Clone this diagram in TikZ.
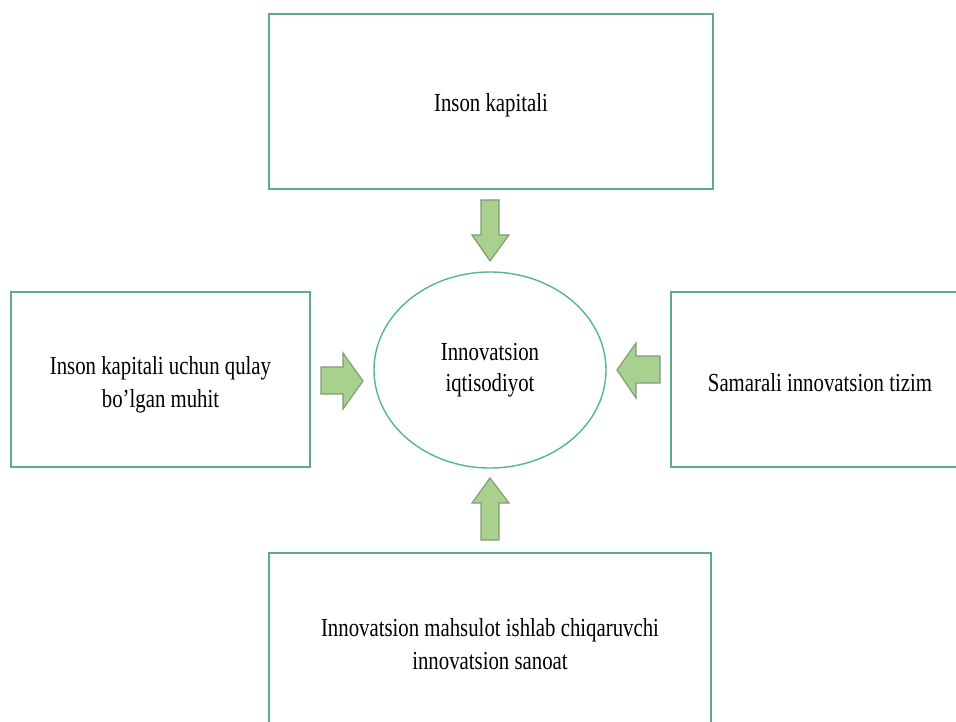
\documentclass[tikz,border=0pt]{standalone}
\usepackage{fontspec}
\setmainfont{Liberation Serif}[FakeStretch=0.8]
\usetikzlibrary{shapes.geometric}
\begin{document}
\begin{tikzpicture}[x=1pt,y=-1pt,
  boxstyle/.style={draw=boxgreen,line width=1.4pt,fill=white,rectangle,inner sep=0pt},
  txtstyle/.style={inner sep=0pt,align=center,font=\fontsize{26}{33}\selectfont},
  ellstyle/.style={draw=ellgreen,line width=1.4pt,ellipse,inner sep=0pt,align=center,
    font=\fontsize{26}{31}\selectfont},
  blockarrow/.style={fill=arrowfill,draw=arrowedge,line width=1.2pt,line join=miter}]
\definecolor{boxgreen}{HTML}{5FAA8C}
\definecolor{ellgreen}{HTML}{55B887}
\definecolor{arrowfill}{HTML}{A9D18E}
\definecolor{arrowedge}{HTML}{859B78}
\useasboundingbox (0,0) rectangle (956,722);
\fill[white] (0,0) rectangle (956,722);
% boxes
\node[boxstyle,minimum width=444pt,minimum height=175pt] (top) at (491,101.5) {};
\node[txtstyle] (toptxt) at ([yshift=-4pt]top.center) {Inson kapitali};
\node[boxstyle,minimum width=299pt,minimum height=175pt] (left) at (160.5,379.5) {};
\node[txtstyle] (lefttxt) at ([yshift=-5pt]left.center) {Inson kapitali uchun qulay\\bo’lgan muhit};
\node[boxstyle,minimum width=298pt,minimum height=175pt] (right) at (820,379.5) {};
\node[txtstyle] (righttxt) at ([yshift=-3pt]right.center) {Samarali innovatsion tizim};
\node[boxstyle,minimum width=442pt,minimum height=180pt] (bottom) at (490,643) {};
\node[txtstyle] (bottomtxt) at ([yshift=-1pt]bottom.center) {Innovatsion mahsulot ishlab chiqaruvchi\\innovatsion sanoat};
% ellipse
\node[ellstyle,minimum width=232pt,minimum height=196pt] (center) at (490,370) {Innovatsion\\iqtisodiyot};
% block arrows
\draw[blockarrow] (481,200) -- (499,200) -- (499,235) -- (509,235) -- (490,261) -- (472,235) -- (481,235) -- cycle;
\draw[blockarrow] (481,540) -- (499,540) -- (499,503) -- (509,503) -- (490,478) -- (472,503) -- (481,503) -- cycle;
\draw[blockarrow] (321,367) -- (321,394) -- (343,394) -- (343,409) -- (363,381) -- (343,353) -- (343,367) -- cycle;
\draw[blockarrow] (660,356) -- (660,383) -- (636,383) -- (636,398) -- (617,370) -- (636,343) -- (636,356) -- cycle;
\end{tikzpicture}
\end{document}
